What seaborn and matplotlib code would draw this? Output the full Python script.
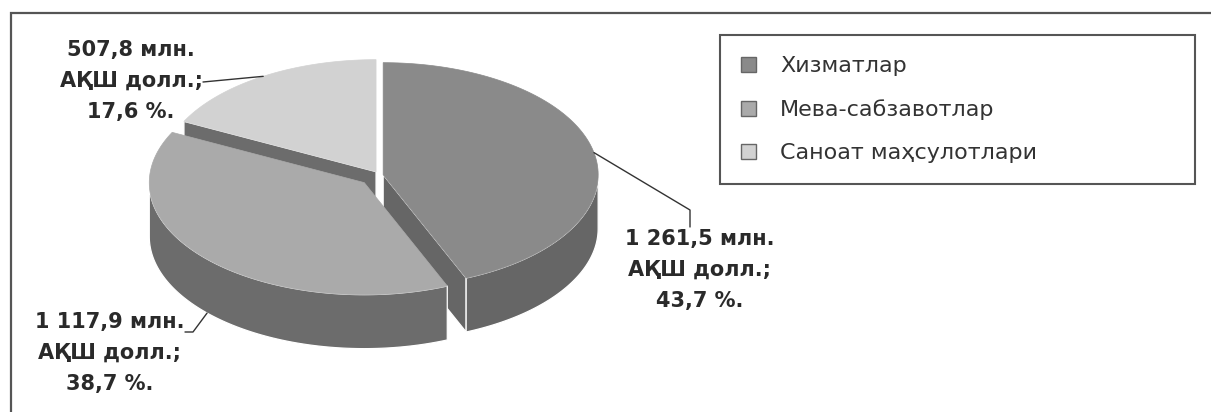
import numpy as np
import seaborn as sns
import matplotlib.pyplot as plt
from matplotlib.patches import Polygon, Patch

# data
categories = ["Хизматлар", "Мева-сабзавотлар", "Саноат маҳсулотлари"]
values = [1261.5, 1117.9, 507.8]          # млн. АҚШ долл.
value_text = ["1 261,5", "1 117,9", "507,8"]
share_text = ["43,7", "38,7", "17,6"]

top_colors = ["#8a8a8a", "#aaaaaa", "#d2d2d2"]
side_colors = ["#666666", "#6c6c6c", "#6c6c6c"]
explode = [0.015, 0.10, 0.035]

sns.set_theme(style="white")
plt.rcParams['font.family'] = ['DejaVu Sans']

fig = plt.figure(figsize=(12.11, 4.12), dpi=100)
ax = fig.add_axes([0, 0, 1, 1])
ax.set_xlim(0, 1211)
ax.set_ylim(412, 0)
ax.axis('off')

# outer frame (cut off at right and bottom)
ax.plot([11, 11, 1211], [412, 13, 13], color='#555555', lw=1.6, solid_joinstyle='miter')

# 3d pie geometry, in pixels
cx, cy = 380, 175
rx, ry = 215, 112
depth = 54


def rim(c, t, dz=0.0):
    t = np.radians(t)
    return np.column_stack([c[0] + rx * np.cos(t), c[1] - ry * np.sin(t) + dz])


fracs = np.array(values) / sum(values)
starts = 90 - 360 * np.concatenate([[0], np.cumsum(fracs)[:-1]])
ends = starts - 360 * fracs

faces = []
tops = []
mids = []
centers = []
for i in range(len(values)):
    a0, a1 = starts[i], ends[i]
    mid = np.radians((a0 + a1) / 2)
    c = (cx + explode[i] * rx * np.cos(mid), cy - explode[i] * ry * np.sin(mid))
    mids.append(np.degrees(mid))
    centers.append(c)

    arc = rim(c, np.linspace(a0, a1, 120))
    tops.append((np.vstack([[c], arc]), top_colors[i]))

    # front part of the outer wall
    for k in (-1, 0, 1):
        lo, hi = max(a1, -180 + 360 * k), min(a0, 360 * k)
        if lo < hi:
            t = np.linspace(hi, lo, 100)
            poly = np.vstack([rim(c, t), rim(c, t[::-1], depth)])
            faces.append((poly, side_colors[i]))

    # radial cut faces turned to the viewer
    for a, vis in ((a0, np.cos(np.radians(a0)) < -1e-6), (a1, np.cos(np.radians(a1)) > 1e-6)):
        if vis:
            r = rim(c, [a])[0]
            poly = np.array([c, r, (r[0], r[1] + depth), (c[0], c[1] + depth)])
            faces.append((poly, side_colors[i]))

for poly, col in sorted(faces, key=lambda f: f[0][:, 1].mean()):
    ax.add_patch(Polygon(poly, closed=True, facecolor=col, edgecolor='white', lw=0.9))
for poly, col in tops:
    ax.add_patch(Polygon(poly, closed=True, facecolor=col, edgecolor=col, lw=0.5))

# labels with leader lines (position = centre x, baseline of last line)
label_pos = [(700, 307), (110, 390), (131, 118)]
leader_end = [[(690, 210), (690, 227)], [(193, 332), (185, 332)], [(203, 82)]]
for i in range(len(values)):
    dz = depth if np.sin(np.radians(mids[i])) < 0 else 0
    start = rim(centers[i], [mids[i]], dz)[0]
    path = np.vstack([[start], leader_end[i]])
    ax.plot(path[:, 0], path[:, 1], color='#333333', lw=1.0)
    ax.text(label_pos[i][0], label_pos[i][1],
            f"{value_text[i]} млн.\nАҚШ долл.;\n{share_text[i]} %.",
            ha='center', va='baseline', fontsize=15, fontweight='bold',
            color='#2a2a2a', linespacing=1.68, multialignment='center')

# legend
handles = [Patch(facecolor=top_colors[i], edgecolor='#666666', lw=1.0, label=categories[i])
           for i in range(len(categories))]
leg = ax.legend(handles=handles, loc='upper left',
                bbox_to_anchor=(720 / 1211, 1 - 201 / 412, 475 / 1211, 166 / 412),
                bbox_transform=fig.transFigure, mode='expand', borderaxespad=0,
                fontsize=16, handlelength=0.68, handleheight=0.68, handletextpad=1.08,
                labelspacing=1.04, borderpad=0.95, fancybox=False, framealpha=1)
leg.get_frame().set_edgecolor('#555555')
leg.get_frame().set_linewidth(1.5)
for txt in leg.get_texts():
    txt.set_color('#333333')

fig.savefig("out.png", dpi=100, facecolor='white')
